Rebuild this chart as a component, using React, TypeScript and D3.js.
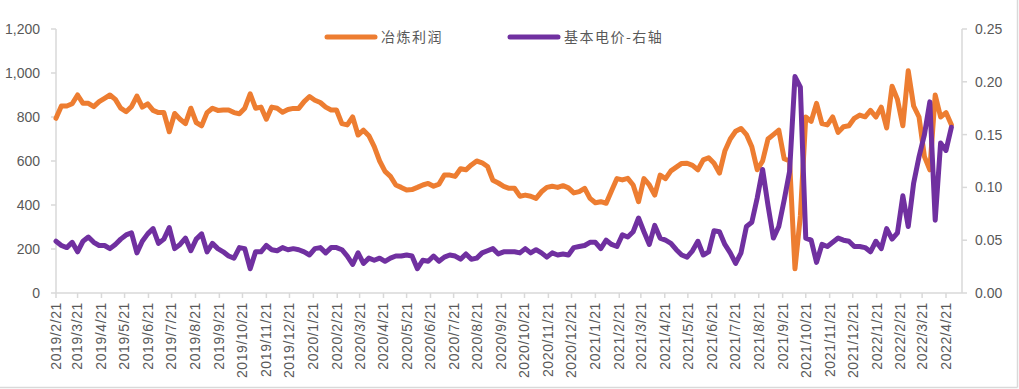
import React from "react";
import * as d3 from "d3";

// ---- data (weekly samples starting 2019/2/21) ----
const startDate = "2019/2/21";
const stepDays = 7;

const smeltingProfit = [
  794, 850, 850, 860, 900, 862, 862, 847, 870, 885,
  900, 880, 840, 824, 847, 895, 845, 860, 830, 820,
  820, 733, 816, 790, 770, 840, 775, 760, 820, 840,
  830, 832, 832, 820, 815, 840, 905, 840, 845, 790,
  845, 840, 822, 834, 839, 839, 870, 893, 876, 866,
  845, 832, 832, 770, 764, 800, 718, 740, 715, 665,
  600, 553, 530, 491, 480, 468, 470, 480, 491, 498,
  485, 495, 536, 536, 530, 565, 560, 582, 600, 592,
  575, 512, 500, 485, 476, 476, 440, 445, 440, 430,
  460, 480, 485, 480, 488, 478, 455, 461, 476, 430,
  410, 415, 408, 465, 520, 514, 521, 491, 415, 520,
  491, 445, 536, 520, 555, 572, 589, 590, 580, 560,
  605, 615, 590, 545, 645, 700, 735, 748, 720, 665,
  560, 600, 700, 720, 740, 610, 600, 110, 350, 800,
  780, 862, 770, 764, 800, 730, 756, 760, 794, 809,
  801, 830, 800, 845, 750, 940, 880, 760, 1010, 850,
  800, 620, 560, 900, 800, 820, 765,
];

const basePrice = [
  0.049, 0.045, 0.043, 0.048, 0.039, 0.049, 0.053, 0.048, 0.045, 0.045,
  0.042, 0.046, 0.051, 0.055, 0.057, 0.038, 0.049, 0.056, 0.061, 0.047,
  0.051, 0.062, 0.042, 0.046, 0.052, 0.040, 0.051, 0.056, 0.039, 0.047,
  0.042, 0.039, 0.035, 0.033, 0.043, 0.042, 0.023, 0.039, 0.039, 0.045,
  0.041, 0.040, 0.043, 0.041, 0.042, 0.041, 0.039, 0.036, 0.042, 0.043,
  0.038, 0.043, 0.043, 0.041, 0.035, 0.027, 0.038, 0.028, 0.033, 0.031,
  0.033, 0.030, 0.033, 0.035, 0.035, 0.036, 0.035, 0.023, 0.031, 0.030,
  0.035, 0.030, 0.034, 0.036, 0.035, 0.032, 0.037, 0.032, 0.033, 0.038,
  0.040, 0.042, 0.037, 0.039, 0.039, 0.039, 0.038, 0.042, 0.038, 0.041,
  0.038, 0.034, 0.038, 0.036, 0.037, 0.036, 0.043, 0.044, 0.045, 0.048,
  0.048, 0.042, 0.050, 0.046, 0.044, 0.055, 0.053, 0.058, 0.071, 0.058,
  0.046, 0.064, 0.052, 0.050, 0.047, 0.041, 0.036, 0.034, 0.040, 0.049,
  0.036, 0.039, 0.059, 0.058, 0.046, 0.038, 0.028, 0.038, 0.063, 0.067,
  0.090, 0.117, 0.083, 0.052, 0.063, 0.088, 0.115, 0.205, 0.195, 0.052,
  0.050, 0.029, 0.046, 0.044, 0.048, 0.052, 0.050, 0.049, 0.044, 0.044,
  0.043, 0.039, 0.049, 0.042, 0.061, 0.051, 0.057, 0.092, 0.063, 0.104,
  0.129, 0.150, 0.181, 0.069, 0.142, 0.135, 0.157,
];

const xTickLabels = [
  "2019/2/21", "2019/3/21", "2019/4/21", "2019/5/21", "2019/6/21", "2019/7/21",
  "2019/8/21", "2019/9/21", "2019/10/21", "2019/11/21", "2019/12/21",
  "2020/1/21", "2020/2/21", "2020/3/21", "2020/4/21", "2020/5/21", "2020/6/21",
  "2020/7/21", "2020/8/21", "2020/9/21", "2020/10/21", "2020/11/21", "2020/12/21",
  "2021/1/21", "2021/2/21", "2021/3/21", "2021/4/21", "2021/5/21", "2021/6/21",
  "2021/7/21", "2021/8/21", "2021/9/21", "2021/10/21", "2021/11/21", "2021/12/21",
  "2022/1/21", "2022/2/21", "2022/3/21", "2022/4/21",
];

const leftTicks = [0, 200, 400, 600, 800, 1000, 1200];
const rightTicks = [0, 0.05, 0.1, 0.15, 0.2, 0.25];

const seriesNames = ["冶炼利润", "基本电价-右轴"];
const seriesColors = ["#ED7D31", "#7030A0"];

// ---- layout ----
const W = 1019;
const H = 389;
const plotLeft = 56;
const plotRight = 962;
const plotTop = 29;
const plotBottom = 293;
const axisColor = "#D9D9D9";
const textColor = "#595959";
const font = "'Liberation Sans', Arial, sans-serif";
const lineW = 5;

export default function App() {
  const parse = d3.timeParse("%Y/%m/%d");
  const start = parse(startDate) as Date;
  const tickDates = xTickLabels.map((s) => parse(s) as Date);

  const x = d3
    .scaleTime()
    .domain([tickDates[0], tickDates[tickDates.length - 1]])
    .range([plotLeft, 946]);
  const yL = d3.scaleLinear().domain([0, 1200]).range([plotBottom, plotTop]);
  const yR = d3.scaleLinear().domain([0, 0.25]).range([plotBottom, plotTop]);

  const dates = smeltingProfit.map((_, i) => d3.timeDay.offset(start, i * stepDays));

  const lineL = d3
    .line<number>()
    .x((_, i) => x(dates[i]))
    .y((d) => yL(d));
  const lineR = d3
    .line<number>()
    .x((_, i) => x(dates[i]))
    .y((d) => yR(d));

  const fmtL = d3.format(",");
  const fmtR = d3.format(".2f");

  return (
    <svg
      width={W}
      height={H}
      style={{ position: "absolute", left: 0, top: 0, background: "#fff" }}
    >
      {/* frame (right & bottom edges visible) */}
      <line x1={W - 1.5} x2={W - 1.5} y1={0} y2={H - 1.5} stroke={axisColor} strokeWidth={1.5} />
      <line x1={0} x2={W - 1.5} y1={H - 1.5} y2={H - 1.5} stroke={axisColor} strokeWidth={1.5} />

      {/* left axis */}
      <line x1={plotLeft} x2={plotLeft} y1={plotTop} y2={plotBottom} stroke={axisColor} strokeWidth={1.5} />
      {leftTicks.map((t) => (
        <g key={"l" + t}>
          <line x1={plotLeft - 5} x2={plotLeft} y1={yL(t)} y2={yL(t)} stroke={axisColor} strokeWidth={1.5} />
          <text
            x={40}
            y={yL(t)}
            dy="0.35em"
            textAnchor="end"
            fontFamily={font}
            fontSize={14}
            fill={textColor}
          >
            {fmtL(t)}
          </text>
        </g>
      ))}

      {/* right axis */}
      <line x1={plotRight} x2={plotRight} y1={plotTop} y2={plotBottom} stroke={axisColor} strokeWidth={1.5} />
      {rightTicks.map((t) => (
        <g key={"r" + t}>
          <line x1={plotRight} x2={plotRight + 5} y1={yR(t)} y2={yR(t)} stroke={axisColor} strokeWidth={1.5} />
          <text
            x={975}
            y={yR(t)}
            dy="0.35em"
            textAnchor="start"
            fontFamily={font}
            fontSize={14}
            fill={textColor}
          >
            {fmtR(t)}
          </text>
        </g>
      ))}

      {/* x axis */}
      <line x1={plotLeft} x2={plotRight} y1={plotBottom} y2={plotBottom} stroke={axisColor} strokeWidth={1.5} />
      {tickDates.map((d, i) => (
        <g key={"x" + i}>
          <line x1={x(d)} x2={x(d)} y1={plotBottom} y2={plotBottom + 5} stroke={axisColor} strokeWidth={1.5} />
          <text
            transform={`translate(${x(d)},302) rotate(-90)`}
            dy="0.35em"
            textAnchor="end"
            fontFamily={font}
            fontSize={14}
            letterSpacing={0.6}
            fill={textColor}
          >
            {xTickLabels[i]}
          </text>
        </g>
      ))}

      {/* series */}
      <path
        d={lineL(smeltingProfit) || ""}
        fill="none"
        stroke={seriesColors[0]}
        strokeWidth={lineW}
        strokeLinejoin="round"
        strokeLinecap="round"
      />
      <path
        d={lineR(basePrice) || ""}
        fill="none"
        stroke={seriesColors[1]}
        strokeWidth={lineW}
        strokeLinejoin="round"
        strokeLinecap="round"
      />

      {/* legend */}
      {[
        { x0: 327, tx: 381 },
        { x0: 510, tx: 564 },
      ].map((p, i) => (
        <g key={"lg" + i}>
          <line
            x1={p.x0}
            x2={p.x0 + 48}
            y1={37}
            y2={37}
            stroke={seriesColors[i]}
            strokeWidth={lineW}
            strokeLinecap="round"
          />
          <text
            x={p.tx}
            y={37}
            dy="0.35em"
            fontFamily="'Noto Sans CJK SC', sans-serif"
            fontSize={14}
            letterSpacing={1.5}
            fill={textColor}
          >
            {seriesNames[i]}
          </text>
        </g>
      ))}
    </svg>
  );
}
